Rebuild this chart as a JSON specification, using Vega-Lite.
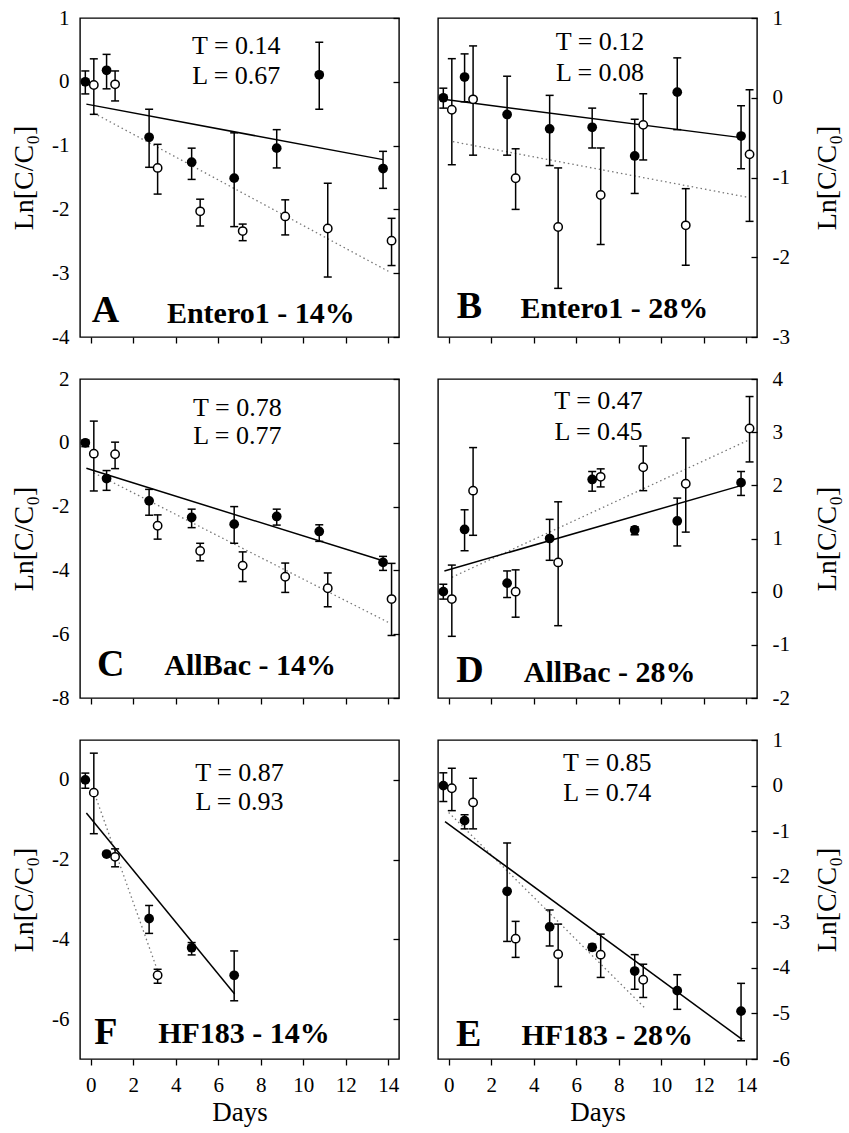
{
"$schema": "https://vega.github.io/schema/vega-lite/v6.json",
"padding": {"left": 9, "top": 6, "right": 5, "bottom": 75},
"background": "white",
"config": {
  "font": "Liberation Serif, Times New Roman, DejaVu Serif, serif",
  "view": {"stroke": "black", "strokeWidth": 1.4},
  "axis": {"labelFont": "Liberation Serif, Times New Roman, DejaVu Serif, serif", "titleFont": "Liberation Serif, Times New Roman, DejaVu Serif, serif", "labelColor": "black", "titleColor": "black", "tickColor": "black", "tickWidth": 1.3, "grid": false, "domain": false, "titleFontWeight": "normal"},
  "text": {"font": "Liberation Serif, Times New Roman, DejaVu Serif, serif", "color": "black"}
},
"datasets": {
  "pts": [
    {"p":"A","t":"f","d":-0.25,"v":0,"lo":-0.19,"hi":0.17},
    {"p":"A","t":"f","d":0.75,"v":0.18,"lo":-0.11,"hi":0.43},
    {"p":"A","t":"f","d":2.75,"v":-0.87,"lo":-1.34,"hi":-0.43},
    {"p":"A","t":"f","d":4.75,"v":-1.26,"lo":-1.53,"hi":-1.04},
    {"p":"A","t":"f","d":6.75,"v":-1.51,"lo":-2.27,"hi":-0.8},
    {"p":"A","t":"f","d":8.75,"v":-1.04,"lo":-1.35,"hi":-0.75},
    {"p":"A","t":"f","d":10.75,"v":0.11,"lo":-0.43,"hi":0.62},
    {"p":"A","t":"f","d":13.75,"v":-1.36,"lo":-1.67,"hi":-1.09},
    {"p":"A","t":"o","d":0.15,"v":-0.05,"lo":-0.51,"hi":0.36},
    {"p":"A","t":"o","d":1.15,"v":-0.04,"lo":-0.3,"hi":0.17},
    {"p":"A","t":"o","d":3.15,"v":-1.35,"lo":-1.76,"hi":-0.98},
    {"p":"A","t":"o","d":5.15,"v":-2.03,"lo":-2.26,"hi":-1.84},
    {"p":"A","t":"o","d":7.15,"v":-2.34,"lo":-2.49,"hi":-2.23},
    {"p":"A","t":"o","d":9.15,"v":-2.11,"lo":-2.4,"hi":-1.85},
    {"p":"A","t":"o","d":11.15,"v":-2.3,"lo":-3.06,"hi":-1.59},
    {"p":"A","t":"o","d":14.15,"v":-2.49,"lo":-2.88,"hi":-2.14},
    {"p":"B","t":"f","d":-0.25,"v":0,"lo":-0.13,"hi":0.12},
    {"p":"B","t":"f","d":0.75,"v":0.26,"lo":-0.05,"hi":0.55},
    {"p":"B","t":"f","d":2.75,"v":-0.21,"lo":-0.72,"hi":0.27},
    {"p":"B","t":"f","d":4.75,"v":-0.39,"lo":-0.85,"hi":0.03},
    {"p":"B","t":"f","d":6.75,"v":-0.37,"lo":-0.63,"hi":-0.13},
    {"p":"B","t":"f","d":8.75,"v":-0.73,"lo":-1.2,"hi":-0.27},
    {"p":"B","t":"f","d":10.75,"v":0.07,"lo":-0.4,"hi":0.5},
    {"p":"B","t":"f","d":13.75,"v":-0.48,"lo":-0.89,"hi":-0.1},
    {"p":"B","t":"o","d":0.15,"v":-0.15,"lo":-0.84,"hi":0.49},
    {"p":"B","t":"o","d":1.15,"v":-0.02,"lo":-0.72,"hi":0.65},
    {"p":"B","t":"o","d":3.15,"v":-1.01,"lo":-1.4,"hi":-0.64},
    {"p":"B","t":"o","d":5.15,"v":-1.62,"lo":-2.39,"hi":-0.88},
    {"p":"B","t":"o","d":7.15,"v":-1.22,"lo":-1.84,"hi":-0.63},
    {"p":"B","t":"o","d":9.15,"v":-0.34,"lo":-0.78,"hi":0.05},
    {"p":"B","t":"o","d":11.15,"v":-1.6,"lo":-2.1,"hi":-1.14},
    {"p":"B","t":"o","d":14.15,"v":-0.71,"lo":-1.55,"hi":0.1},
    {"p":"C","t":"f","d":-0.25,"v":0,"lo":-0.12,"hi":0.08},
    {"p":"C","t":"f","d":0.75,"v":-1.12,"lo":-1.49,"hi":-0.87},
    {"p":"C","t":"f","d":2.75,"v":-1.82,"lo":-2.27,"hi":-1.46},
    {"p":"C","t":"f","d":4.75,"v":-2.34,"lo":-2.66,"hi":-2.08},
    {"p":"C","t":"f","d":6.75,"v":-2.55,"lo":-3.15,"hi":-2.0},
    {"p":"C","t":"f","d":8.75,"v":-2.31,"lo":-2.58,"hi":-2.08},
    {"p":"C","t":"f","d":10.75,"v":-2.78,"lo":-3.09,"hi":-2.57},
    {"p":"C","t":"f","d":13.75,"v":-3.75,"lo":-4.0,"hi":-3.56},
    {"p":"C","t":"o","d":0.15,"v":-0.34,"lo":-1.51,"hi":0.68},
    {"p":"C","t":"o","d":1.15,"v":-0.36,"lo":-0.81,"hi":0.02},
    {"p":"C","t":"o","d":3.15,"v":-2.6,"lo":-3.02,"hi":-2.26},
    {"p":"C","t":"o","d":5.15,"v":-3.39,"lo":-3.7,"hi":-3.15},
    {"p":"C","t":"o","d":7.15,"v":-3.85,"lo":-4.35,"hi":-3.42},
    {"p":"C","t":"o","d":9.15,"v":-4.2,"lo":-4.69,"hi":-3.77},
    {"p":"C","t":"o","d":11.15,"v":-4.56,"lo":-5.14,"hi":-4.08},
    {"p":"C","t":"o","d":14.15,"v":-4.9,"lo":-6.04,"hi":-3.78},
    {"p":"D","t":"f","d":-0.25,"v":0,"lo":-0.14,"hi":0.14},
    {"p":"D","t":"f","d":0.75,"v":1.17,"lo":0.77,"hi":1.54},
    {"p":"D","t":"f","d":2.75,"v":0.16,"lo":-0.11,"hi":0.39},
    {"p":"D","t":"f","d":4.75,"v":1.0,"lo":0.59,"hi":1.36},
    {"p":"D","t":"f","d":6.75,"v":2.11,"lo":1.89,"hi":2.26},
    {"p":"D","t":"f","d":8.75,"v":1.16,"lo":1.07,"hi":1.22},
    {"p":"D","t":"f","d":10.75,"v":1.33,"lo":0.86,"hi":1.76},
    {"p":"D","t":"f","d":13.75,"v":2.05,"lo":1.81,"hi":2.26},
    {"p":"D","t":"o","d":0.15,"v":-0.14,"lo":-0.84,"hi":0.5},
    {"p":"D","t":"o","d":1.15,"v":1.9,"lo":1.06,"hi":2.71},
    {"p":"D","t":"o","d":3.15,"v":0.0,"lo":-0.48,"hi":0.41},
    {"p":"D","t":"o","d":5.15,"v":0.55,"lo":-0.64,"hi":1.69},
    {"p":"D","t":"o","d":7.15,"v":2.16,"lo":1.97,"hi":2.31},
    {"p":"D","t":"o","d":9.15,"v":2.34,"lo":1.9,"hi":2.74},
    {"p":"D","t":"o","d":11.15,"v":2.03,"lo":1.12,"hi":2.89},
    {"p":"D","t":"o","d":14.15,"v":3.07,"lo":2.44,"hi":3.67},
    {"p":"F","t":"f","d":-0.25,"v":0,"lo":-0.21,"hi":0.17},
    {"p":"F","t":"f","d":0.75,"v":-1.86,"lo":-1.9,"hi":-1.82},
    {"p":"F","t":"f","d":2.75,"v":-3.48,"lo":-3.85,"hi":-3.15},
    {"p":"F","t":"f","d":4.75,"v":-4.21,"lo":-4.39,"hi":-4.08},
    {"p":"F","t":"f","d":6.75,"v":-4.9,"lo":-5.54,"hi":-4.29},
    {"p":"F","t":"o","d":0.15,"v":-0.32,"lo":-1.35,"hi":0.67},
    {"p":"F","t":"o","d":1.15,"v":-1.93,"lo":-2.18,"hi":-1.73},
    {"p":"F","t":"o","d":3.15,"v":-4.9,"lo":-5.1,"hi":-4.75},
    {"p":"E","t":"f","d":-0.25,"v":0,"lo":-0.35,"hi":0.28},
    {"p":"E","t":"f","d":0.75,"v":-0.77,"lo":-0.95,"hi":-0.64},
    {"p":"E","t":"f","d":2.75,"v":-2.32,"lo":-3.42,"hi":-1.26},
    {"p":"E","t":"f","d":4.75,"v":-3.1,"lo":-3.52,"hi":-2.73},
    {"p":"E","t":"f","d":6.75,"v":-3.55,"lo":-3.62,"hi":-3.48},
    {"p":"E","t":"f","d":8.75,"v":-4.07,"lo":-4.47,"hi":-3.71},
    {"p":"E","t":"f","d":10.75,"v":-4.5,"lo":-4.91,"hi":-4.15},
    {"p":"E","t":"f","d":13.75,"v":-4.95,"lo":-5.6,"hi":-4.34},
    {"p":"E","t":"o","d":0.15,"v":-0.06,"lo":-0.55,"hi":0.38},
    {"p":"E","t":"o","d":1.15,"v":-0.37,"lo":-0.95,"hi":0.16},
    {"p":"E","t":"o","d":3.15,"v":-3.36,"lo":-3.77,"hi":-2.98},
    {"p":"E","t":"o","d":5.15,"v":-3.7,"lo":-4.41,"hi":-3.04},
    {"p":"E","t":"o","d":7.15,"v":-3.71,"lo":-4.21,"hi":-3.26},
    {"p":"E","t":"o","d":9.15,"v":-4.26,"lo":-4.65,"hi":-3.92}
  ],
  "lines": [
    {"p":"A","t":"f","d":-0.2,"v":-0.35},{"p":"A","t":"f","d":13.75,"v":-1.22},
    {"p":"A","t":"o","d":0.15,"v":-0.49},{"p":"A","t":"o","d":14.0,"v":-2.97},
    {"p":"B","t":"f","d":-0.25,"v":-0.02},{"p":"B","t":"f","d":13.75,"v":-0.5},
    {"p":"B","t":"o","d":0.2,"v":-0.55},{"p":"B","t":"o","d":14.1,"v":-1.25},
    {"p":"C","t":"f","d":-0.2,"v":-0.8},{"p":"C","t":"f","d":13.75,"v":-3.7},
    {"p":"C","t":"o","d":0.15,"v":-0.94},{"p":"C","t":"o","d":14.0,"v":-5.63},
    {"p":"D","t":"f","d":-0.2,"v":0.39},{"p":"D","t":"f","d":13.7,"v":1.99},
    {"p":"D","t":"o","d":0.15,"v":0.27},{"p":"D","t":"o","d":14.15,"v":2.86},
    {"p":"F","t":"f","d":-0.2,"v":-0.83},{"p":"F","t":"f","d":6.77,"v":-5.37},
    {"p":"F","t":"o","d":0.2,"v":-0.37},{"p":"F","t":"o","d":3.15,"v":-4.79},
    {"p":"E","t":"f","d":-0.17,"v":-0.79},{"p":"E","t":"f","d":13.8,"v":-5.57},
    {"p":"E","t":"o","d":0.0,"v":-0.59},{"p":"E","t":"o","d":9.2,"v":-4.87}
  ],
  "txt": [
    {"p":"A","k":"tl","d":6.85,"v":0.43,"s":"T = 0.14"},
    {"p":"A","k":"tl","d":6.85,"v":-0.03,"s":"L = 0.67"},
    {"p":"A","k":"let","d":0.05,"v":-3.77,"s":"A"},
    {"p":"A","k":"lab","d":8.0,"v":-3.78,"s":"Entero1 - 14%"},
    {"p":"B","k":"tl","d":7.12,"v":0.6,"s":"T = 0.12"},
    {"p":"B","k":"tl","d":7.12,"v":0.21,"s":"L = 0.08"},
    {"p":"B","k":"let","d":0.38,"v":-2.76,"s":"B"},
    {"p":"B","k":"lab","d":7.79,"v":-2.76,"s":"Entero1 - 28%"},
    {"p":"C","k":"tl","d":6.9,"v":0.83,"s":"T = 0.78"},
    {"p":"C","k":"tl","d":6.9,"v":-0.05,"s":"L = 0.77"},
    {"p":"C","k":"let","d":0.3,"v":-7.32,"s":"C"},
    {"p":"C","k":"lab","d":7.5,"v":-7.29,"s":"AllBac - 14%"},
    {"p":"D","k":"tl","d":7.05,"v":3.44,"s":"T = 0.47"},
    {"p":"D","k":"tl","d":7.05,"v":2.86,"s":"L = 0.45"},
    {"p":"D","k":"let","d":0.36,"v":-1.7,"s":"D"},
    {"p":"D","k":"lab","d":7.57,"v":-1.7,"s":"AllBac - 28%"},
    {"p":"F","k":"tl","d":7.0,"v":-0.02,"s":"T = 0.87"},
    {"p":"F","k":"tl","d":7.0,"v":-0.75,"s":"L = 0.93"},
    {"p":"F","k":"let","d":0.17,"v":-6.62,"s":"F"},
    {"p":"F","k":"lab","d":7.21,"v":-6.6,"s":"HF183 - 14%"},
    {"p":"E","k":"tl","d":7.46,"v":0.31,"s":"T = 0.85"},
    {"p":"E","k":"tl","d":7.46,"v":-0.33,"s":"L = 0.74"},
    {"p":"E","k":"let","d":0.35,"v":-5.71,"s":"E"},
    {"p":"E","k":"lab","d":7.46,"v":-5.7,"s":"HF183 - 28%"}
  ]
},
"bounds": "flush",
"columns": 2,
"spacing": {"row": 42, "column": 39},
"concat": [
  {"width": 319, "height": 319, "resolve": {"axis": {"y": "independent"}},
   "encoding": {"x": {"field": "d", "type": "quantitative", "scale": {"domain": [-0.5, 14.5], "nice": false, "zero": false}, "axis": {"orient": "bottom", "values": [0,2,4,6,8,10,12,14], "labels": false, "ticks": true, "tickSize": 6, "title": null}}},
   "layer": [
    {"data": {"name": "lines"}, "transform": [{"filter": "datum.p=='A' && datum.t=='o'"}], "mark": {"type": "line", "color": "#777777", "strokeWidth": 1.3, "strokeDash": [1.5, 3]},
     "encoding": {"y": {"field": "v", "type": "quantitative", "scale": {"domain": [-4, 1], "nice": false, "zero": false}, "axis": {"orient": "left", "values": [-4,-3,-2,-1,0,1], "ticks": false, "labelFontSize": 21, "labelPadding": 11, "labelExpr": "'' + datum.value", "title": "Ln[C/C₀]", "titleFontSize": 28, "titlePadding": 13}}}},
    {"data": {"name": "lines"}, "transform": [{"filter": "datum.p=='A' && datum.t=='f'"}], "mark": {"type": "line", "color": "black", "strokeWidth": 1.5},
     "encoding": {"y": {"field": "v", "type": "quantitative", "axis": {"orient": "right", "values": [-4,-3,-2,-1,0,1], "labels": false, "tickSize": -6, "title": null}}}},
    {"data": {"name": "pts"}, "transform": [{"filter": "datum.p=='A'"}], "mark": {"type": "rule", "color": "black", "strokeWidth": 1.5},
     "encoding": {"y": {"field": "lo", "type": "quantitative", "axis": null}, "y2": {"field": "hi"}}},
    {"data": {"name": "pts"}, "transform": [{"filter": "datum.p=='A'"}], "mark": {"type": "tick", "orient": "horizontal", "size": 8, "thickness": 1.5, "color": "black", "opacity": 1},
     "encoding": {"y": {"field": "lo", "type": "quantitative", "axis": null}}},
    {"data": {"name": "pts"}, "transform": [{"filter": "datum.p=='A'"}], "mark": {"type": "tick", "orient": "horizontal", "size": 8, "thickness": 1.5, "color": "black", "opacity": 1},
     "encoding": {"y": {"field": "hi", "type": "quantitative", "axis": null}}},
    {"data": {"name": "pts"}, "transform": [{"filter": "datum.p=='A' && datum.t=='f'"}], "mark": {"type": "circle", "size": 95, "color": "black", "opacity": 1},
     "encoding": {"y": {"field": "v", "type": "quantitative", "axis": null}}},
    {"data": {"name": "pts"}, "transform": [{"filter": "datum.p=='A' && datum.t=='o'"}], "mark": {"type": "point", "shape": "circle", "filled": true, "fill": "white", "stroke": "black", "strokeWidth": 1.5, "size": 70, "opacity": 1},
     "encoding": {"y": {"field": "v", "type": "quantitative", "axis": null}}},
    {"data": {"name": "txt"}, "transform": [{"filter": "datum.p=='A' && datum.k=='tl'"}], "mark": {"type": "text", "fontSize": 26, "align": "center", "baseline": "alphabetic"},
     "encoding": {"y": {"field": "v", "type": "quantitative", "axis": null}, "text": {"field": "s"}}},
    {"data": {"name": "txt"}, "transform": [{"filter": "datum.p=='A' && datum.k=='let'"}], "mark": {"type": "text", "fontSize": 38, "fontWeight": "bold", "align": "left", "baseline": "alphabetic"},
     "encoding": {"y": {"field": "v", "type": "quantitative", "axis": null}, "text": {"field": "s"}}},
    {"data": {"name": "txt"}, "transform": [{"filter": "datum.p=='A' && datum.k=='lab'"}], "mark": {"type": "text", "fontSize": 30, "fontWeight": "bold", "align": "center", "baseline": "alphabetic"},
     "encoding": {"y": {"field": "v", "type": "quantitative", "axis": null}, "text": {"field": "s"}}}
  ]},
  {"width": 319, "height": 319, "resolve": {"axis": {"y": "independent"}},
   "encoding": {"x": {"field": "d", "type": "quantitative", "scale": {"domain": [-0.5, 14.5], "nice": false, "zero": false}, "axis": {"orient": "bottom", "values": [0,2,4,6,8,10,12,14], "labels": false, "ticks": true, "tickSize": 6, "title": null}}},
   "layer": [
    {"data": {"name": "lines"}, "transform": [{"filter": "datum.p=='B' && datum.t=='o'"}], "mark": {"type": "line", "color": "#777777", "strokeWidth": 1.3, "strokeDash": [1.5, 3]},
     "encoding": {"y": {"field": "v", "type": "quantitative", "scale": {"domain": [-3, 1], "nice": false, "zero": false}, "axis": {"orient": "right", "values": [-3,-2,-1,0,1], "ticks": false, "labelFontSize": 21, "labelPadding": 15, "labelExpr": "'' + datum.value", "title": "Ln[C/C₀]", "titleFontSize": 28, "titlePadding": 24, "titleAngle": 270, "titleBaseline": "top"}}}},
    {"data": {"name": "lines"}, "transform": [{"filter": "datum.p=='B' && datum.t=='f'"}], "mark": {"type": "line", "color": "black", "strokeWidth": 1.5},
     "encoding": {"y": {"field": "v", "type": "quantitative", "axis": {"orient": "right", "values": [-3,-2,-1,0,1], "labels": false, "tickSize": -6, "title": null}}}},
    {"data": {"name": "pts"}, "transform": [{"filter": "datum.p=='B'"}], "mark": {"type": "rule", "color": "black", "strokeWidth": 1.5},
     "encoding": {"y": {"field": "lo", "type": "quantitative", "axis": null}, "y2": {"field": "hi"}}},
    {"data": {"name": "pts"}, "transform": [{"filter": "datum.p=='B'"}], "mark": {"type": "tick", "orient": "horizontal", "size": 8, "thickness": 1.5, "color": "black", "opacity": 1},
     "encoding": {"y": {"field": "lo", "type": "quantitative", "axis": null}}},
    {"data": {"name": "pts"}, "transform": [{"filter": "datum.p=='B'"}], "mark": {"type": "tick", "orient": "horizontal", "size": 8, "thickness": 1.5, "color": "black", "opacity": 1},
     "encoding": {"y": {"field": "hi", "type": "quantitative", "axis": null}}},
    {"data": {"name": "pts"}, "transform": [{"filter": "datum.p=='B' && datum.t=='f'"}], "mark": {"type": "circle", "size": 95, "color": "black", "opacity": 1},
     "encoding": {"y": {"field": "v", "type": "quantitative", "axis": null}}},
    {"data": {"name": "pts"}, "transform": [{"filter": "datum.p=='B' && datum.t=='o'"}], "mark": {"type": "point", "shape": "circle", "filled": true, "fill": "white", "stroke": "black", "strokeWidth": 1.5, "size": 70, "opacity": 1},
     "encoding": {"y": {"field": "v", "type": "quantitative", "axis": null}}},
    {"data": {"name": "txt"}, "transform": [{"filter": "datum.p=='B' && datum.k=='tl'"}], "mark": {"type": "text", "fontSize": 26, "align": "center", "baseline": "alphabetic"},
     "encoding": {"y": {"field": "v", "type": "quantitative", "axis": null}, "text": {"field": "s"}}},
    {"data": {"name": "txt"}, "transform": [{"filter": "datum.p=='B' && datum.k=='let'"}], "mark": {"type": "text", "fontSize": 38, "fontWeight": "bold", "align": "left", "baseline": "alphabetic"},
     "encoding": {"y": {"field": "v", "type": "quantitative", "axis": null}, "text": {"field": "s"}}},
    {"data": {"name": "txt"}, "transform": [{"filter": "datum.p=='B' && datum.k=='lab'"}], "mark": {"type": "text", "fontSize": 30, "fontWeight": "bold", "align": "center", "baseline": "alphabetic"},
     "encoding": {"y": {"field": "v", "type": "quantitative", "axis": null}, "text": {"field": "s"}}}
  ]},
  {"width": 319, "height": 319, "resolve": {"axis": {"y": "independent"}},
   "encoding": {"x": {"field": "d", "type": "quantitative", "scale": {"domain": [-0.5, 14.5], "nice": false, "zero": false}, "axis": {"orient": "bottom", "values": [0,2,4,6,8,10,12,14], "labels": false, "ticks": true, "tickSize": 6, "title": null}}},
   "layer": [
    {"data": {"name": "lines"}, "transform": [{"filter": "datum.p=='C' && datum.t=='o'"}], "mark": {"type": "line", "color": "#777777", "strokeWidth": 1.3, "strokeDash": [1.5, 3]},
     "encoding": {"y": {"field": "v", "type": "quantitative", "scale": {"domain": [-8, 2], "nice": false, "zero": false}, "axis": {"orient": "left", "values": [-8,-6,-4,-2,0,2], "ticks": false, "labelFontSize": 21, "labelPadding": 11, "labelExpr": "'' + datum.value", "title": "Ln[C/C₀]", "titleFontSize": 28, "titlePadding": 13}}}},
    {"data": {"name": "lines"}, "transform": [{"filter": "datum.p=='C' && datum.t=='f'"}], "mark": {"type": "line", "color": "black", "strokeWidth": 1.5},
     "encoding": {"y": {"field": "v", "type": "quantitative", "axis": {"orient": "right", "values": [-8,-6,-4,-2,0,2], "labels": false, "tickSize": -6, "title": null}}}},
    {"data": {"name": "pts"}, "transform": [{"filter": "datum.p=='C'"}], "mark": {"type": "rule", "color": "black", "strokeWidth": 1.5},
     "encoding": {"y": {"field": "lo", "type": "quantitative", "axis": null}, "y2": {"field": "hi"}}},
    {"data": {"name": "pts"}, "transform": [{"filter": "datum.p=='C'"}], "mark": {"type": "tick", "orient": "horizontal", "size": 8, "thickness": 1.5, "color": "black", "opacity": 1},
     "encoding": {"y": {"field": "lo", "type": "quantitative", "axis": null}}},
    {"data": {"name": "pts"}, "transform": [{"filter": "datum.p=='C'"}], "mark": {"type": "tick", "orient": "horizontal", "size": 8, "thickness": 1.5, "color": "black", "opacity": 1},
     "encoding": {"y": {"field": "hi", "type": "quantitative", "axis": null}}},
    {"data": {"name": "pts"}, "transform": [{"filter": "datum.p=='C' && datum.t=='f'"}], "mark": {"type": "circle", "size": 95, "color": "black", "opacity": 1},
     "encoding": {"y": {"field": "v", "type": "quantitative", "axis": null}}},
    {"data": {"name": "pts"}, "transform": [{"filter": "datum.p=='C' && datum.t=='o'"}], "mark": {"type": "point", "shape": "circle", "filled": true, "fill": "white", "stroke": "black", "strokeWidth": 1.5, "size": 70, "opacity": 1},
     "encoding": {"y": {"field": "v", "type": "quantitative", "axis": null}}},
    {"data": {"name": "txt"}, "transform": [{"filter": "datum.p=='C' && datum.k=='tl'"}], "mark": {"type": "text", "fontSize": 26, "align": "center", "baseline": "alphabetic"},
     "encoding": {"y": {"field": "v", "type": "quantitative", "axis": null}, "text": {"field": "s"}}},
    {"data": {"name": "txt"}, "transform": [{"filter": "datum.p=='C' && datum.k=='let'"}], "mark": {"type": "text", "fontSize": 38, "fontWeight": "bold", "align": "left", "baseline": "alphabetic"},
     "encoding": {"y": {"field": "v", "type": "quantitative", "axis": null}, "text": {"field": "s"}}},
    {"data": {"name": "txt"}, "transform": [{"filter": "datum.p=='C' && datum.k=='lab'"}], "mark": {"type": "text", "fontSize": 30, "fontWeight": "bold", "align": "center", "baseline": "alphabetic"},
     "encoding": {"y": {"field": "v", "type": "quantitative", "axis": null}, "text": {"field": "s"}}}
  ]},
  {"width": 319, "height": 319, "resolve": {"axis": {"y": "independent"}},
   "encoding": {"x": {"field": "d", "type": "quantitative", "scale": {"domain": [-0.5, 14.5], "nice": false, "zero": false}, "axis": {"orient": "bottom", "values": [0,2,4,6,8,10,12,14], "labels": false, "ticks": true, "tickSize": 6, "title": null}}},
   "layer": [
    {"data": {"name": "lines"}, "transform": [{"filter": "datum.p=='D' && datum.t=='o'"}], "mark": {"type": "line", "color": "#777777", "strokeWidth": 1.3, "strokeDash": [1.5, 3]},
     "encoding": {"y": {"field": "v", "type": "quantitative", "scale": {"domain": [-2, 4], "nice": false, "zero": false}, "axis": {"orient": "right", "values": [-2,-1,0,1,2,3,4], "ticks": false, "labelFontSize": 21, "labelPadding": 15, "labelExpr": "'' + datum.value", "title": "Ln[C/C₀]", "titleFontSize": 28, "titlePadding": 24, "titleAngle": 270, "titleBaseline": "top"}}}},
    {"data": {"name": "lines"}, "transform": [{"filter": "datum.p=='D' && datum.t=='f'"}], "mark": {"type": "line", "color": "black", "strokeWidth": 1.5},
     "encoding": {"y": {"field": "v", "type": "quantitative", "axis": {"orient": "right", "values": [-2,-1,0,1,2,3,4], "labels": false, "tickSize": -6, "title": null}}}},
    {"data": {"name": "pts"}, "transform": [{"filter": "datum.p=='D'"}], "mark": {"type": "rule", "color": "black", "strokeWidth": 1.5},
     "encoding": {"y": {"field": "lo", "type": "quantitative", "axis": null}, "y2": {"field": "hi"}}},
    {"data": {"name": "pts"}, "transform": [{"filter": "datum.p=='D'"}], "mark": {"type": "tick", "orient": "horizontal", "size": 8, "thickness": 1.5, "color": "black", "opacity": 1},
     "encoding": {"y": {"field": "lo", "type": "quantitative", "axis": null}}},
    {"data": {"name": "pts"}, "transform": [{"filter": "datum.p=='D'"}], "mark": {"type": "tick", "orient": "horizontal", "size": 8, "thickness": 1.5, "color": "black", "opacity": 1},
     "encoding": {"y": {"field": "hi", "type": "quantitative", "axis": null}}},
    {"data": {"name": "pts"}, "transform": [{"filter": "datum.p=='D' && datum.t=='f'"}], "mark": {"type": "circle", "size": 95, "color": "black", "opacity": 1},
     "encoding": {"y": {"field": "v", "type": "quantitative", "axis": null}}},
    {"data": {"name": "pts"}, "transform": [{"filter": "datum.p=='D' && datum.t=='o'"}], "mark": {"type": "point", "shape": "circle", "filled": true, "fill": "white", "stroke": "black", "strokeWidth": 1.5, "size": 70, "opacity": 1},
     "encoding": {"y": {"field": "v", "type": "quantitative", "axis": null}}},
    {"data": {"name": "txt"}, "transform": [{"filter": "datum.p=='D' && datum.k=='tl'"}], "mark": {"type": "text", "fontSize": 26, "align": "center", "baseline": "alphabetic"},
     "encoding": {"y": {"field": "v", "type": "quantitative", "axis": null}, "text": {"field": "s"}}},
    {"data": {"name": "txt"}, "transform": [{"filter": "datum.p=='D' && datum.k=='let'"}], "mark": {"type": "text", "fontSize": 38, "fontWeight": "bold", "align": "left", "baseline": "alphabetic"},
     "encoding": {"y": {"field": "v", "type": "quantitative", "axis": null}, "text": {"field": "s"}}},
    {"data": {"name": "txt"}, "transform": [{"filter": "datum.p=='D' && datum.k=='lab'"}], "mark": {"type": "text", "fontSize": 30, "fontWeight": "bold", "align": "center", "baseline": "alphabetic"},
     "encoding": {"y": {"field": "v", "type": "quantitative", "axis": null}, "text": {"field": "s"}}}
  ]},
  {"width": 319, "height": 319, "resolve": {"axis": {"y": "independent"}},
   "encoding": {"x": {"field": "d", "type": "quantitative", "scale": {"domain": [-0.5, 14.5], "nice": false, "zero": false}, "axis": {"orient": "bottom", "values": [0,2,4,6,8,10,12,14], "labels": true, "ticks": true, "tickSize": 6, "labelFontSize": 21, "labelPadding": 9, "labelFlush": false, "title": "Days", "titleFontSize": 27, "titlePadding": 4}}},
   "layer": [
    {"data": {"name": "lines"}, "transform": [{"filter": "datum.p=='F' && datum.t=='o'"}], "mark": {"type": "line", "color": "#777777", "strokeWidth": 1.3, "strokeDash": [1.5, 3]},
     "encoding": {"y": {"field": "v", "type": "quantitative", "scale": {"domain": [-7, 1], "nice": false, "zero": false}, "axis": {"orient": "left", "values": [-6,-4,-2,0], "ticks": false, "labelFontSize": 21, "labelPadding": 11, "labelExpr": "'' + datum.value", "title": "Ln[C/C₀]", "titleFontSize": 28, "titlePadding": 13}}}},
    {"data": {"name": "lines"}, "transform": [{"filter": "datum.p=='F' && datum.t=='f'"}], "mark": {"type": "line", "color": "black", "strokeWidth": 1.5},
     "encoding": {"y": {"field": "v", "type": "quantitative", "axis": {"orient": "right", "values": [-6,-4,-2,0], "labels": false, "tickSize": -6, "title": null}}}},
    {"data": {"name": "pts"}, "transform": [{"filter": "datum.p=='F'"}], "mark": {"type": "rule", "color": "black", "strokeWidth": 1.5},
     "encoding": {"y": {"field": "lo", "type": "quantitative", "axis": null}, "y2": {"field": "hi"}}},
    {"data": {"name": "pts"}, "transform": [{"filter": "datum.p=='F'"}], "mark": {"type": "tick", "orient": "horizontal", "size": 8, "thickness": 1.5, "color": "black", "opacity": 1},
     "encoding": {"y": {"field": "lo", "type": "quantitative", "axis": null}}},
    {"data": {"name": "pts"}, "transform": [{"filter": "datum.p=='F'"}], "mark": {"type": "tick", "orient": "horizontal", "size": 8, "thickness": 1.5, "color": "black", "opacity": 1},
     "encoding": {"y": {"field": "hi", "type": "quantitative", "axis": null}}},
    {"data": {"name": "pts"}, "transform": [{"filter": "datum.p=='F' && datum.t=='f'"}], "mark": {"type": "circle", "size": 95, "color": "black", "opacity": 1},
     "encoding": {"y": {"field": "v", "type": "quantitative", "axis": null}}},
    {"data": {"name": "pts"}, "transform": [{"filter": "datum.p=='F' && datum.t=='o'"}], "mark": {"type": "point", "shape": "circle", "filled": true, "fill": "white", "stroke": "black", "strokeWidth": 1.5, "size": 70, "opacity": 1},
     "encoding": {"y": {"field": "v", "type": "quantitative", "axis": null}}},
    {"data": {"name": "txt"}, "transform": [{"filter": "datum.p=='F' && datum.k=='tl'"}], "mark": {"type": "text", "fontSize": 26, "align": "center", "baseline": "alphabetic"},
     "encoding": {"y": {"field": "v", "type": "quantitative", "axis": null}, "text": {"field": "s"}}},
    {"data": {"name": "txt"}, "transform": [{"filter": "datum.p=='F' && datum.k=='let'"}], "mark": {"type": "text", "fontSize": 38, "fontWeight": "bold", "align": "left", "baseline": "alphabetic"},
     "encoding": {"y": {"field": "v", "type": "quantitative", "axis": null}, "text": {"field": "s"}}},
    {"data": {"name": "txt"}, "transform": [{"filter": "datum.p=='F' && datum.k=='lab'"}], "mark": {"type": "text", "fontSize": 30, "fontWeight": "bold", "align": "center", "baseline": "alphabetic"},
     "encoding": {"y": {"field": "v", "type": "quantitative", "axis": null}, "text": {"field": "s"}}}
  ]},
  {"width": 319, "height": 319, "resolve": {"axis": {"y": "independent"}},
   "encoding": {"x": {"field": "d", "type": "quantitative", "scale": {"domain": [-0.5, 14.5], "nice": false, "zero": false}, "axis": {"orient": "bottom", "values": [0,2,4,6,8,10,12,14], "labels": true, "ticks": true, "tickSize": 6, "labelFontSize": 21, "labelPadding": 9, "labelFlush": false, "title": "Days", "titleFontSize": 27, "titlePadding": 4}}},
   "layer": [
    {"data": {"name": "lines"}, "transform": [{"filter": "datum.p=='E' && datum.t=='o'"}], "mark": {"type": "line", "color": "#777777", "strokeWidth": 1.3, "strokeDash": [1.5, 3]},
     "encoding": {"y": {"field": "v", "type": "quantitative", "scale": {"domain": [-6, 1], "nice": false, "zero": false}, "axis": {"orient": "right", "values": [-6,-5,-4,-3,-2,-1,0,1], "ticks": false, "labelFontSize": 21, "labelPadding": 15, "labelExpr": "'' + datum.value", "title": "Ln[C/C₀]", "titleFontSize": 28, "titlePadding": 24, "titleAngle": 270, "titleBaseline": "top"}}}},
    {"data": {"name": "lines"}, "transform": [{"filter": "datum.p=='E' && datum.t=='f'"}], "mark": {"type": "line", "color": "black", "strokeWidth": 1.5},
     "encoding": {"y": {"field": "v", "type": "quantitative", "axis": {"orient": "right", "values": [-6,-5,-4,-3,-2,-1,0,1], "labels": false, "tickSize": -6, "title": null}}}},
    {"data": {"name": "pts"}, "transform": [{"filter": "datum.p=='E'"}], "mark": {"type": "rule", "color": "black", "strokeWidth": 1.5},
     "encoding": {"y": {"field": "lo", "type": "quantitative", "axis": null}, "y2": {"field": "hi"}}},
    {"data": {"name": "pts"}, "transform": [{"filter": "datum.p=='E'"}], "mark": {"type": "tick", "orient": "horizontal", "size": 8, "thickness": 1.5, "color": "black", "opacity": 1},
     "encoding": {"y": {"field": "lo", "type": "quantitative", "axis": null}}},
    {"data": {"name": "pts"}, "transform": [{"filter": "datum.p=='E'"}], "mark": {"type": "tick", "orient": "horizontal", "size": 8, "thickness": 1.5, "color": "black", "opacity": 1},
     "encoding": {"y": {"field": "hi", "type": "quantitative", "axis": null}}},
    {"data": {"name": "pts"}, "transform": [{"filter": "datum.p=='E' && datum.t=='f'"}], "mark": {"type": "circle", "size": 95, "color": "black", "opacity": 1},
     "encoding": {"y": {"field": "v", "type": "quantitative", "axis": null}}},
    {"data": {"name": "pts"}, "transform": [{"filter": "datum.p=='E' && datum.t=='o'"}], "mark": {"type": "point", "shape": "circle", "filled": true, "fill": "white", "stroke": "black", "strokeWidth": 1.5, "size": 70, "opacity": 1},
     "encoding": {"y": {"field": "v", "type": "quantitative", "axis": null}}},
    {"data": {"name": "txt"}, "transform": [{"filter": "datum.p=='E' && datum.k=='tl'"}], "mark": {"type": "text", "fontSize": 26, "align": "center", "baseline": "alphabetic"},
     "encoding": {"y": {"field": "v", "type": "quantitative", "axis": null}, "text": {"field": "s"}}},
    {"data": {"name": "txt"}, "transform": [{"filter": "datum.p=='E' && datum.k=='let'"}], "mark": {"type": "text", "fontSize": 38, "fontWeight": "bold", "align": "left", "baseline": "alphabetic"},
     "encoding": {"y": {"field": "v", "type": "quantitative", "axis": null}, "text": {"field": "s"}}},
    {"data": {"name": "txt"}, "transform": [{"filter": "datum.p=='E' && datum.k=='lab'"}], "mark": {"type": "text", "fontSize": 30, "fontWeight": "bold", "align": "center", "baseline": "alphabetic"},
     "encoding": {"y": {"field": "v", "type": "quantitative", "axis": null}, "text": {"field": "s"}}}
  ]}
]
}
